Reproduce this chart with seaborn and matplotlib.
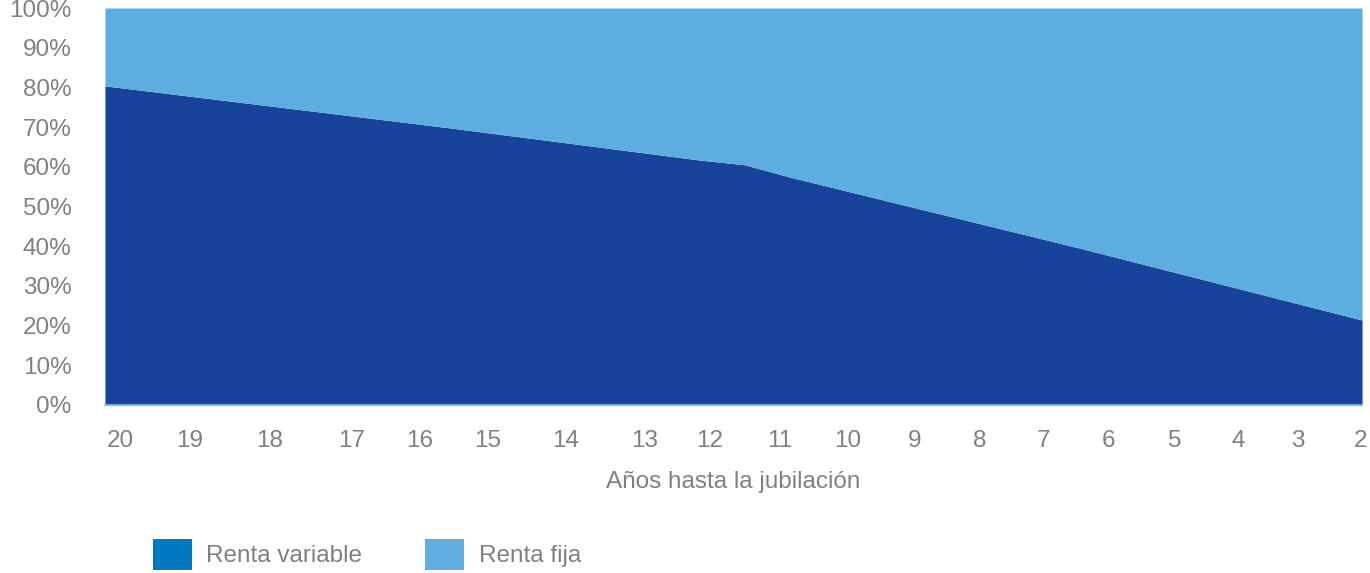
import seaborn as sns
import matplotlib.pyplot as plt
from matplotlib.patches import Patch

# boundary between the two areas, read along the horizontal axis
posicion = [0, 345, 595, 640, 685, 975, 1257]
renta_variable = [80.4, 69.8, 61.7, 60.5, 57.4, 39.5, 21.4]
renta_fija = [19.6, 30.2, 38.3, 39.5, 42.6, 60.5, 78.6]

# year labels (unevenly spaced in the original)
anios = [20, 19, 18, 17, 16, 15, 14, 13, 12, 11, 10, 9, 8, 7, 6, 5, 4, 3, 2]
anios_pos = [15, 85, 165, 247, 315, 383, 461, 540, 605, 675, 743, 810, 875,
             938, 1003, 1070, 1133, 1193, 1255]
y_ticks = [0, 10, 20, 30, 40, 50, 60, 70, 80, 90, 100]

oscuro = "#17449A"
claro = "#5DADE0"
gris = "#808080"
fs = 17.5

sns.set_theme(style="white")
plt.rcParams['font.family'] = ['Liberation Sans', 'DejaVu Sans']

fig = plt.figure(figsize=(13.7, 5.73), dpi=100)
ax = fig.add_axes([0.0766, 0.2932, 0.9176, 0.6928])

ax.stackplot(posicion, renta_variable, renta_fija, colors=[oscuro, claro],
             linewidth=0)
ax.set_xlim(posicion[0], posicion[-1])
ax.set_ylim(0, 100)

ax.set_yticks(y_ticks)
ax.set_yticklabels([f"{v}%" for v in y_ticks])
ax.set_xticks(anios_pos)
ax.set_xticklabels([str(a) for a in anios])
ax.tick_params(axis='y', length=0, pad=24, labelsize=fs, labelcolor=gris)
ax.tick_params(axis='x', length=0, pad=18, labelsize=fs, labelcolor=gris)
ax.set_xlabel("Años hasta la jubilación", fontsize=fs, color=gris, labelpad=14)

for s in ["top", "right", "left"]:
    ax.spines[s].set_visible(False)
ax.spines["bottom"].set_color("#7FC0EA")
ax.spines["bottom"].set_linewidth(1.2)

handles = [Patch(facecolor="#0079C1", edgecolor="none", label="Renta variable"),
           Patch(facecolor="#62AEE2", edgecolor="none", label="Renta fija")]
fig.legend(handles=handles, loc="lower left", bbox_to_anchor=(0.1044, -0.012),
           borderaxespad=0, ncol=2, frameon=False, fontsize=fs,
           labelcolor=gris, handlelength=1.6, handleheight=1.6,
           handletextpad=0.6, columnspacing=2.6)

fig.savefig("out.png", dpi=100)
